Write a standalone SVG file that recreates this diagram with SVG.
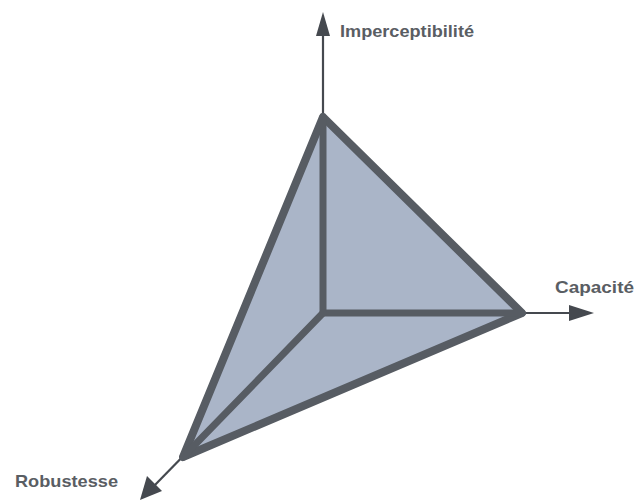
<svg xmlns="http://www.w3.org/2000/svg" width="635" height="504" viewBox="0 0 635 504">
<style>
.axis{stroke:#45494f;stroke-width:2.2;fill:none}
.head{fill:#45494f}
.edge{stroke:#575c63;stroke-width:7;fill:none;stroke-linejoin:round;stroke-linecap:round}
.face{fill:#aab5c8;stroke:#575c63;stroke-width:8;stroke-linejoin:round}
.lbl{font-family:"Liberation Sans",Arial,sans-serif;font-size:17px;fill:#3d4248;font-weight:bold;opacity:0.85}
</style>
<rect width="635" height="504" fill="#ffffff"/>
<g id="connectors">
<line class="axis" x1="323" y1="313" x2="323" y2="30"/>
<polygon class="head" points="323,12 316,36 330,36"/>
<line class="axis" x1="323" y1="313" x2="572" y2="313"/>
<polygon class="head" points="594,313 569,305 569,321"/>
<line class="axis" x1="323" y1="313" x2="153" y2="487"/>
<polygon class="head" points="140,500 147,476 162,491"/>
</g>
<g id="pyramid">
<polygon class="face" points="323,117 522,313 183,457"/>
<polyline class="edge" points="323,117 323,313 522,313"/>
<line class="edge" x1="323" y1="313" x2="183" y2="457"/>
</g>
<g id="imperceptibilite"><text class="lbl" x="340" y="37" textLength="134" lengthAdjust="spacingAndGlyphs">Imperceptibilité</text></g>
<g id="capacite"><text class="lbl" x="555" y="293" textLength="79" lengthAdjust="spacingAndGlyphs">Capacité</text></g>
<g id="robustesse"><text class="lbl" x="15" y="487" textLength="103" lengthAdjust="spacingAndGlyphs">Robustesse</text></g>
</svg>
